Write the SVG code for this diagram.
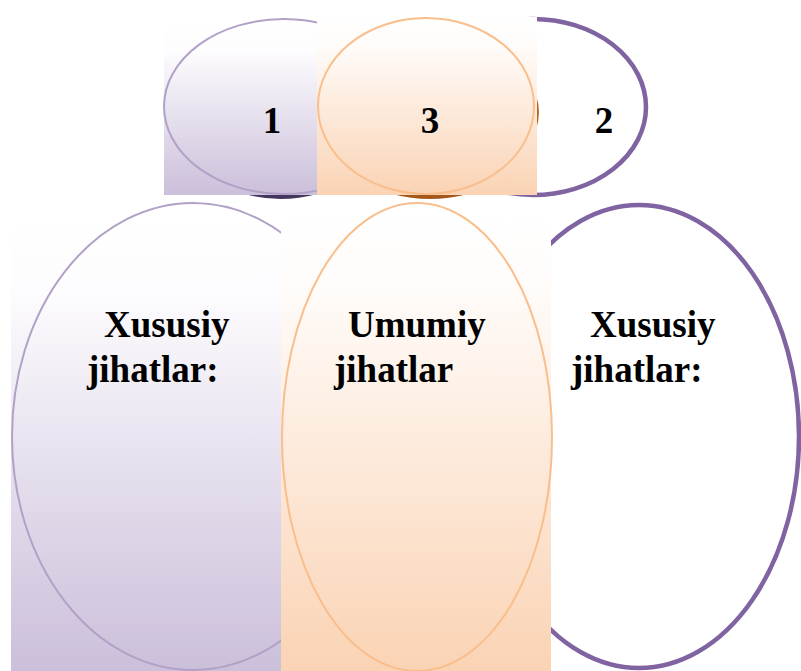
<svg xmlns="http://www.w3.org/2000/svg" width="801" height="671" viewBox="0 0 801 671">
  <defs>
    <linearGradient id="gPurple" x1="0" y1="0" x2="0" y2="1">
      <stop offset="0" stop-color="#FFFFFF"/>
      <stop offset="0.15" stop-color="#FDFCFE"/>
      <stop offset="1" stop-color="#CBBFDA"/>
    </linearGradient>
    <linearGradient id="gOrange" x1="0" y1="0" x2="0" y2="1">
      <stop offset="0" stop-color="#FFFFFF"/>
      <stop offset="0.15" stop-color="#FFFCFA"/>
      <stop offset="1" stop-color="#FAD3B4"/>
    </linearGradient>
    <style>
      .thick { fill: #FFFFFF; stroke: #8064A2; stroke-width: 4.5; }
      .thinP { fill: none; stroke: #B2A1C7; stroke-width: 2; }
      .thinO { fill: none; stroke: #F9BE8C; stroke-width: 2; }
      .lbl { font-family: "Liberation Serif", "Times New Roman", serif; font-weight: bold; font-size: 37px; fill: #000000; }
      .num { text-anchor: middle; }
    </style>
  </defs>

  <rect x="0" y="0" width="801" height="671" fill="#FFFFFF"/>

  <!-- top row -->
  <g id="node-2">
    <ellipse class="thick" cx="533" cy="107" rx="113" ry="88"/>
    <text class="lbl num" x="604" y="133">2</text>
  </g>

  <g id="shadows">
    <path d="M245,194 Q281,204 317,194 Z" fill="#45365C"/>
    <path d="M392,194 Q430,204 468,194 Z" fill="#A5581A"/>
    <path d="M536,95 Q542,112 536,130 Z" fill="#C0681F"/>
  </g>

  <g id="node-1">
    <rect x="164" y="25" width="153" height="170" fill="url(#gPurple)"/>
    <ellipse class="thinP" cx="284" cy="106.5" rx="120" ry="87.5"/>
    <text class="lbl num" x="272" y="133">1</text>
  </g>

  <g id="node-3">
    <rect x="317" y="17" width="220" height="178" fill="url(#gOrange)"/>
    <ellipse class="thinO" cx="426" cy="106" rx="108" ry="88"/>
    <text class="lbl num" x="430" y="133">3</text>
  </g>

  <!-- bottom row -->
  <g id="node-right">
    <ellipse class="thick" cx="639" cy="436.5" rx="160" ry="231.5"/>
    <text class="lbl" x="590" y="337">Xususiy</text>
    <text class="lbl" x="571" y="382">jihatlar:</text>
  </g>

  <g id="node-left">
    <rect x="11" y="222" width="270" height="449" fill="url(#gPurple)"/>
    <ellipse class="thinP" cx="193" cy="436.5" rx="181" ry="233.5"/>
    <text class="lbl" x="104" y="337">Xususiy</text>
    <text class="lbl" x="87" y="382">jihatlar:</text>
  </g>

  <g id="node-middle">
    <rect x="281" y="215" width="270" height="456" fill="url(#gOrange)"/>
    <ellipse class="thinO" cx="417" cy="437" rx="135" ry="234"/>
    <text class="lbl" x="348" y="337">Umumiy</text>
    <text class="lbl" x="334" y="382">jihatlar</text>
  </g>

  <g id="connectors"/>
</svg>
